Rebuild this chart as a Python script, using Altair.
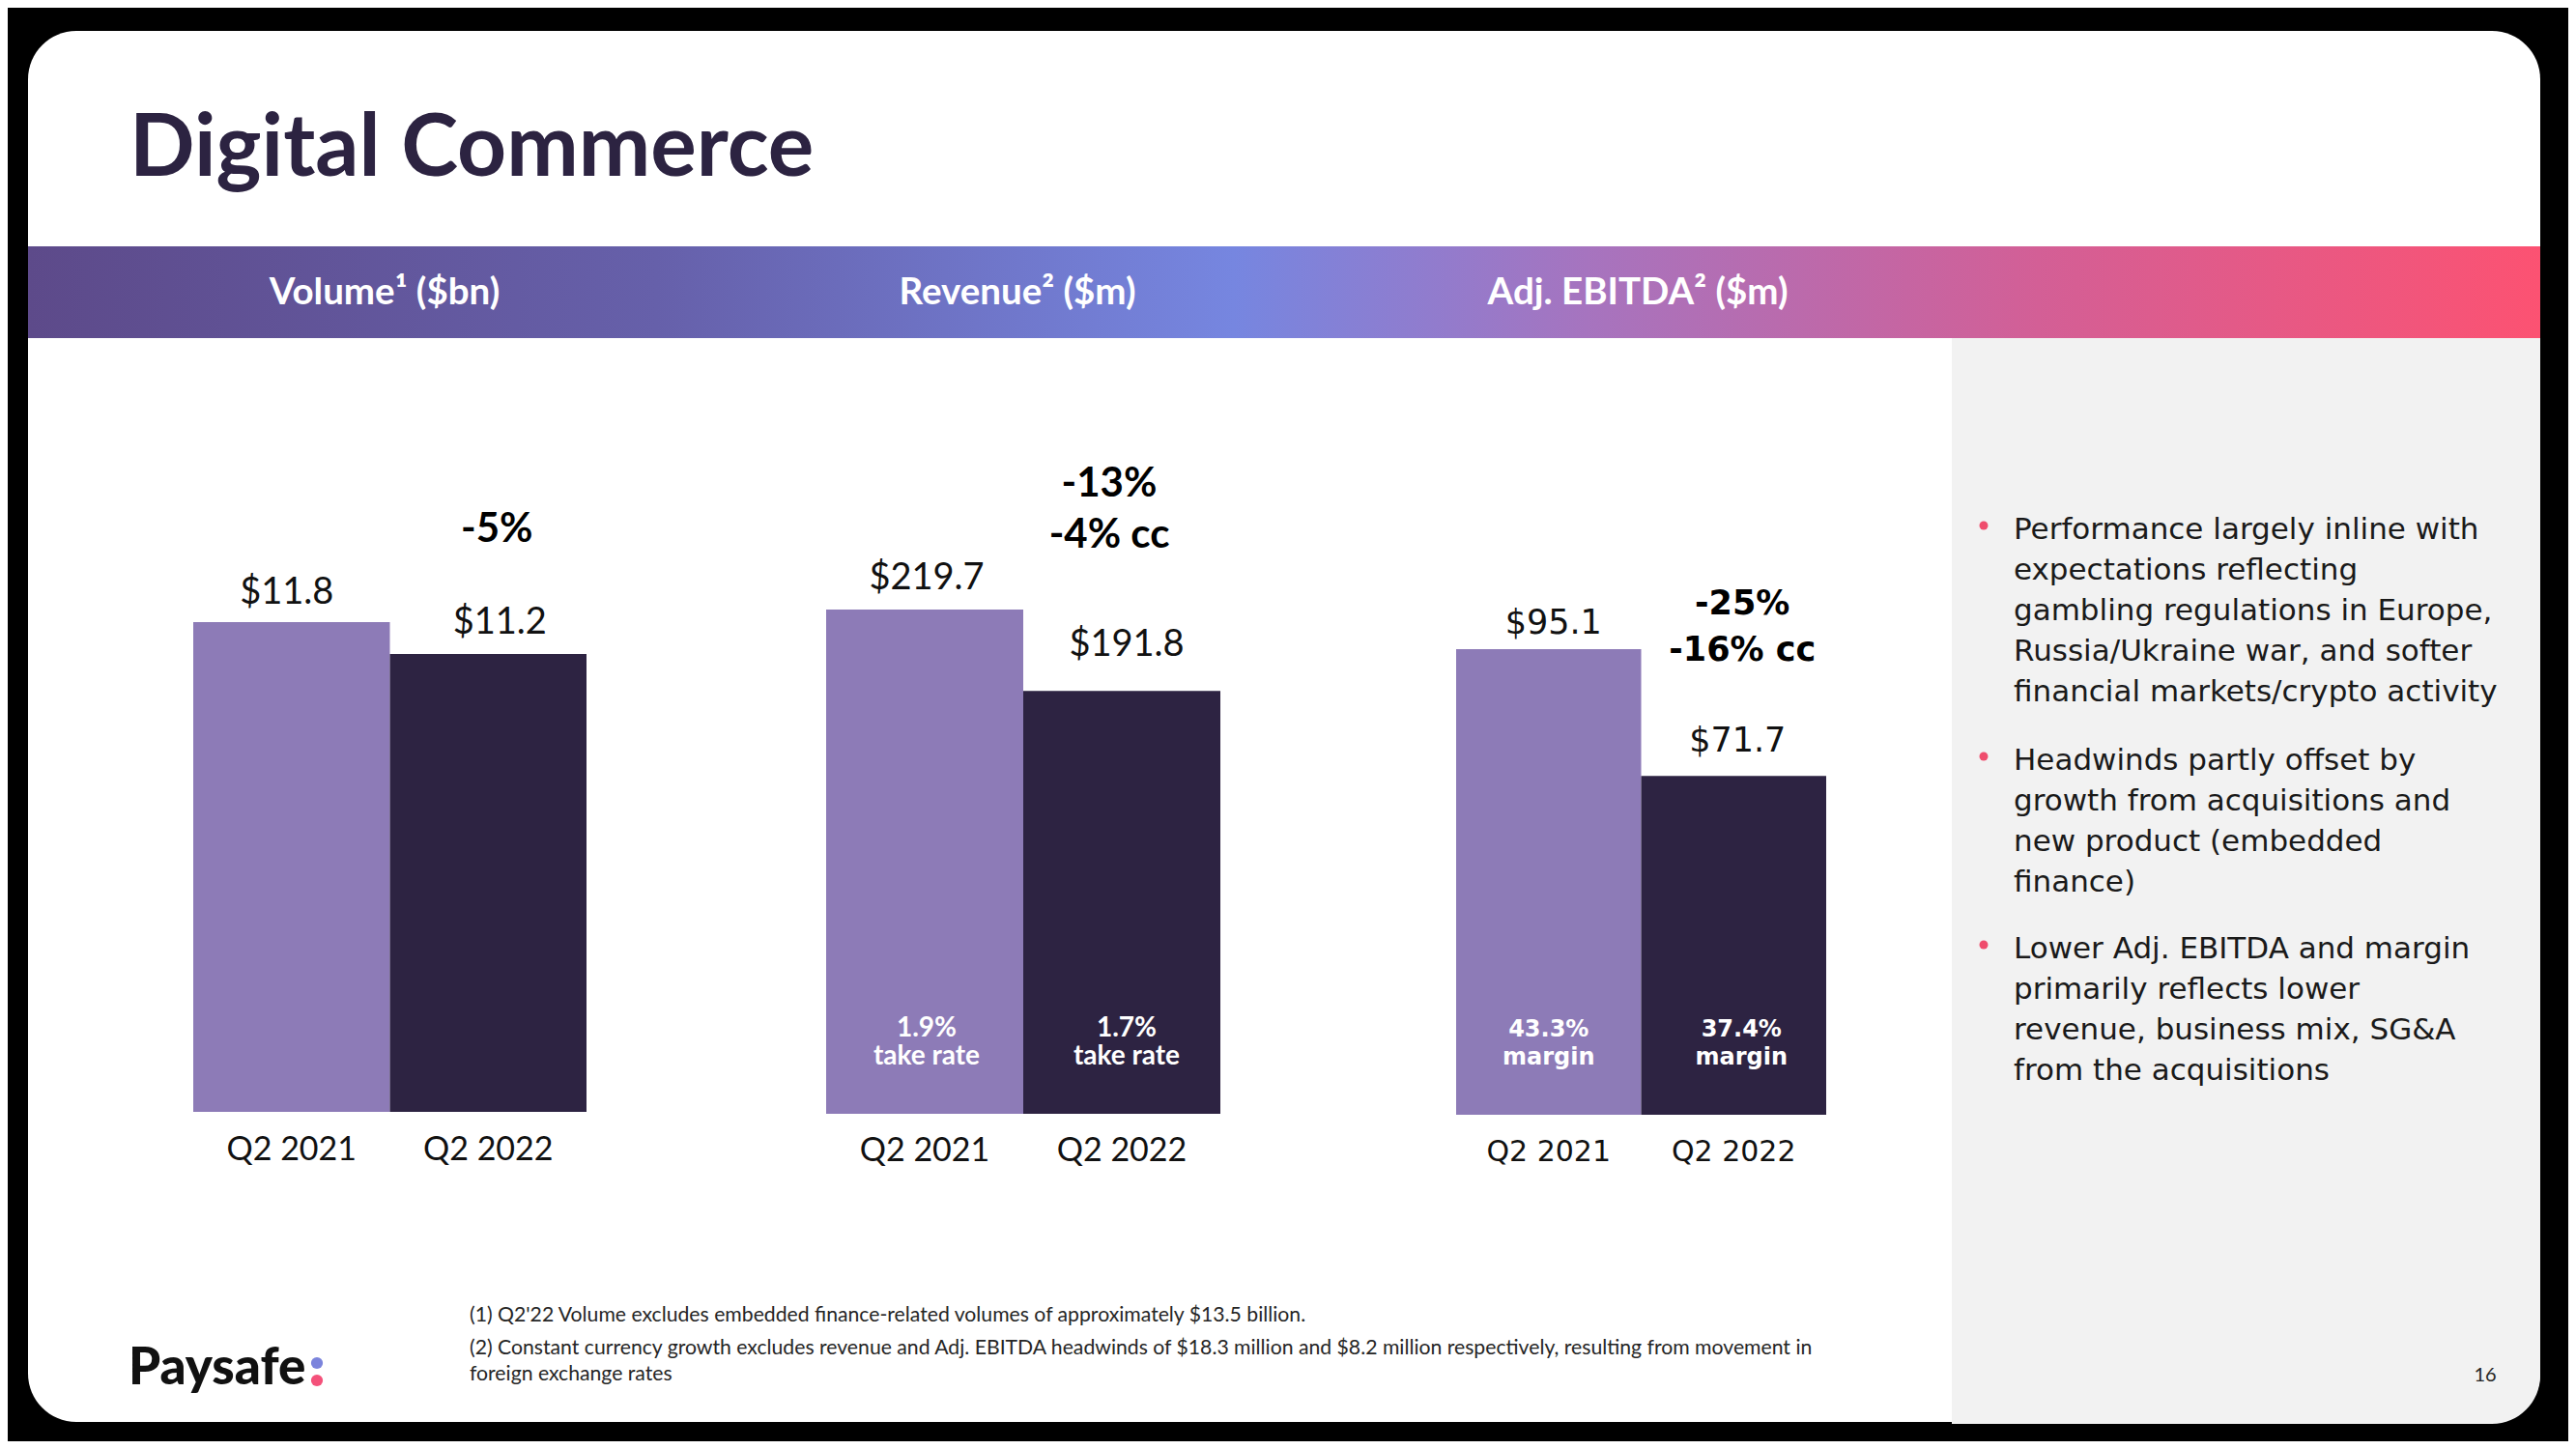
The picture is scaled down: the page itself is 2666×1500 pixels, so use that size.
import altair as alt
import pandas as pd

# ---------------- data ----------------
periods = ["Q2 2021", "Q2 2022"]
volume = [11.8, 11.2]
revenue = [219.7, 191.8]
ebitda = [95.1, 71.7]
volume_labels = ["$11.8", "$11.2"]
revenue_labels = ["$219.7", "$191.8"]
ebitda_labels = ["$95.1", "$71.7"]
take_rates = ["1.9%", "1.7%"]
margins = ["43.3%", "37.4%"]
volume_change = ["-5%"]
revenue_change = ["-13%", "-4% cc"]
ebitda_change = ["-25%", "-16% cc"]
panel_titles = ["Volume¹ ($bn)", "Revenue² ($m)", "Adj. EBITDA² ($m)"]
page_title = "Digital Commerce"
bullets = [
    ["Performance largely inline with", "expectations reflecting",
     "gambling regulations in Europe,", "Russia/Ukraine war, and softer",
     "financial markets/crypto activity"],
    ["Headwinds partly offset by", "growth from acquisitions and",
     "new product (embedded", "finance)"],
    ["Lower Adj. EBITDA and margin", "primarily reflects lower",
     "revenue, business mix, SG&A", "from the acquisitions"],
]
footnotes = [
    "(1) Q2'22 Volume excludes embedded finance-related volumes of approximately $13.5 billion.",
    "(2) Constant currency growth excludes revenue and Adj. EBITDA headwinds of $18.3 million and $8.2 million respectively, resulting from movement in",
    "foreign exchange rates",
]
page_number = "16"
logo_text = "Paysafe"

# ---------------- styles ----------------
W, H = 2650, 1484
LIGHT, DARK = "#8d7bb7", "#2d2342"
TITLE_C = "#2c2341"
TEXT_C = "#111111"


def dummy():
    return alt.Chart(pd.DataFrame({"k": [0]}))


def rect(x, x2, y, y2, color, **kw):
    return dummy().mark_rect(color=color, **kw).encode(
        x=alt.value(x), x2=alt.value(x2), y=alt.value(y), y2=alt.value(y2))


def label(text, x, y, size, font="Lato", weight="normal", color=TEXT_C,
          align="left", lh=None):
    kw = dict(text=text, font=font, fontSize=size, fontWeight=weight,
              color=color, align=align, baseline="alphabetic")
    if lh is not None:
        kw.update(lineBreak="\n", lineHeight=lh)
    return dummy().mark_text(**kw).encode(x=alt.value(x), y=alt.value(y))


def dot(x, y, color, size):
    return dummy().mark_circle(color=color, size=size, opacity=1).encode(
        x=alt.value(x), y=alt.value(y))


def panel(values, labels, notes, change, cfg):
    df = pd.DataFrame({"period": periods, "value": values, "label": labels})

    def X():
        return alt.X("period:N", axis=None,
                     scale=alt.Scale(domain=periods, range=cfg["x_range"],
                                     paddingInner=0, paddingOuter=0))

    def ys():
        return alt.Scale(domain=[cfg["y_min"], values[0]], range=cfg["y_range"],
                         nice=False, zero=False)

    def Y():
        return alt.Y("value:Q", scale=ys(), axis=None)

    def Ybase():
        return alt.YDatum(cfg["y_min"], type="quantitative", scale=ys(), axis=None)

    base = alt.Chart(df)
    f = cfg["font"]
    layers = [base.mark_bar().encode(
        x=X(), y=Y(), y2=alt.datum(cfg["y_min"]),
        color=alt.Color("period:N", scale=alt.Scale(domain=periods, range=[LIGHT, DARK]),
                        legend=None))]
    for i, p in enumerate(periods):
        layers.append(base.transform_filter(alt.datum.period == p).mark_text(
            font=f, fontSize=cfg["val_size"], align="center", baseline="alphabetic",
            color=TEXT_C, dx=cfg["label_dx"][i], dy=cfg["label_dy"][i]
        ).encode(x=X(), y=Y(), text="label:N"))
    layers.append(base.mark_text(
        font=f, fontSize=cfg["cat_size"], align="center", baseline="alphabetic",
        color=TEXT_C, dy=cfg["cat_dy"]
    ).encode(x=X(), y=Ybase(), text="period:N"))
    ch = pd.DataFrame({"period": [periods[1]], "value": [values[1]],
                       "text": ["\n".join(change)]})
    layers.append(alt.Chart(ch).mark_text(
        font=f, fontSize=cfg["chg_size"], fontWeight="bold", align="center",
        baseline="alphabetic", color="#000000", lineBreak="\n",
        lineHeight=cfg["chg_lh"], dx=cfg["chg_dx"], dy=cfg["chg_dy"]
    ).encode(x=X(), y=Y(), text="text:N"))
    if notes is not None:
        nd = pd.DataFrame({"period": periods,
                           "note": [f"{n}\n{cfg['note_word']}" for n in notes]})
        for i, p in enumerate(periods):
            layers.append(alt.Chart(nd).transform_filter(alt.datum.period == p).mark_text(
                font=f, fontSize=cfg["note_size"], fontWeight="bold", align="center",
                baseline="alphabetic", color="#ffffff", lineBreak="\n",
                lineHeight=cfg["note_lh"], dx=cfg["note_dx"][i], dy=cfg["note_dy"]
            ).encode(x=X(), y=Ybase(), text="note:N"))
    return layers


vol_cfg = dict(x_range=[192, 599], y_min=2.6, y_range=[1143, 636], font="Lato",
               val_size=38, cat_size=34, cat_dy=50, label_dx=[-5, 12],
               label_dy=[-19, -21], chg_size=42, chg_lh=53, chg_dx=9, chg_dy=-116)
rev_cfg = dict(x_range=[847, 1255], y_min=46.7, y_range=[1145, 623], font="Lato",
               val_size=38, cat_size=34, cat_dy=49, label_dx=[2, 5],
               label_dy=[-21, -36], chg_size=42, chg_lh=53, chg_dx=-13, chg_dy=-201,
               note_word="take rate", note_size=28, note_lh=29, note_dx=[2, 5],
               note_dy=-80)
ebi_cfg = dict(x_range=[1499, 1882], y_min=9.2, y_range=[1146, 664], font="DejaVu Sans",
               val_size=35, cat_size=30, cat_dy=48, label_dx=[5, 4],
               label_dy=[-16, -25], chg_size=35, chg_lh=48, chg_dx=9, chg_dy=-167,
               note_word="margin", note_size=24, note_lh=29, note_dx=[0, 8],
               note_dy=-81)

gradient = alt.LinearGradient(
    gradient="linear", x1=0, x2=1, y1=0, y2=0,
    stops=[alt.GradientStop(color="#5d4a8a", offset=0),
           alt.GradientStop(color="#6660aa", offset=0.25),
           alt.GradientStop(color="#7686e0", offset=0.48),
           alt.GradientStop(color="#a674bf", offset=0.62),
           alt.GradientStop(color="#d35f96", offset=0.8),
           alt.GradientStop(color="#fc5272", offset=1.0)])

decor = [
    rect(21, 2621, 24, 1464, "#ffffff", cornerRadius=50),
    rect(2012, 2621, 342, 1466, "#f2f2f2", cornerRadiusBottomRight=50),
    rect(21, 2621, 247, 342, gradient),
    label(page_title, 126, 174, 89, weight="bold", color=TITLE_C),
    label(panel_titles[0], 390, 307, 38.5, weight="bold", color="#ffffff", align="center"),
    label(panel_titles[1], 1045, 307, 38.5, weight="bold", color="#ffffff", align="center"),
    label(panel_titles[2], 1687, 307, 38.5, weight="bold", color="#ffffff", align="center"),
]

bullet_y = [550, 789, 984]
for lines, by in zip(bullets, bullet_y):
    decor.append(label("\n".join(lines), 2076, by, 31, font="DejaVu Sans",
                       color="#1a1a1a", lh=42))
    decor.append(dot(2045, by - 14, "#ef4d6d", 80))

decor += [
    label(footnotes[0], 478, 1360, 21.2, color="#262626"),
    label(footnotes[1] + "\n" + footnotes[2], 478, 1394, 21.2, color="#262626", lh=27),
    label(page_number, 2564, 1422, 20, color="#262626", align="center"),
    label(logo_text, 125, 1425, 53, weight=900, color="#111111"),
    dot(320, 1403, "#7b84dc", 150),
    dot(320, 1421, "#f4517a", 150),
]

layers = decor
layers += panel(volume, volume_labels, None, volume_change, vol_cfg)
layers += panel(revenue, revenue_labels, take_rates, revenue_change, rev_cfg)
layers += panel(ebitda, ebitda_labels, margins, ebitda_change, ebi_cfg)

chart = alt.layer(*layers).resolve_scale(
    x="independent", y="independent", color="independent"
).properties(
    width=W, height=H, padding=0, background="#000000",
    autosize=alt.AutoSizeParams(type="none"),
).configure_view(strokeWidth=0)

chart.save("out.html", embed_options={"renderer": "svg", "actions": False})
